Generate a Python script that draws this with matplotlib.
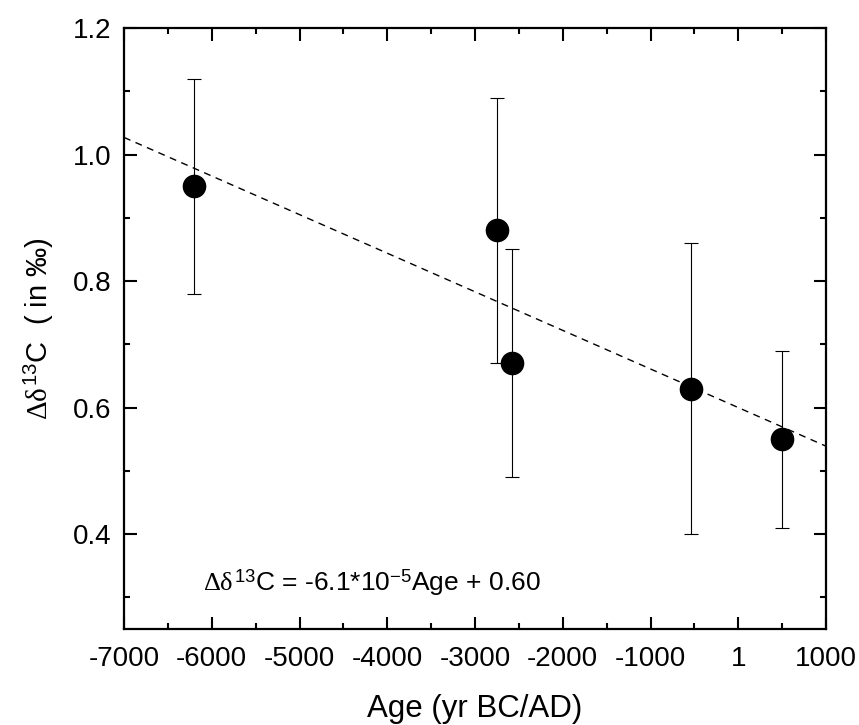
import numpy as np
import matplotlib.pyplot as plt
from matplotlib.ticker import MultipleLocator

plt.rcParams['font.family'] = ['Liberation Sans', 'DejaVu Sans']
plt.rcParams['mathtext.fontset'] = 'custom'
plt.rcParams['mathtext.rm'] = 'Liberation Serif'
plt.rcParams['mathtext.it'] = 'Liberation Serif'
plt.rcParams['mathtext.sf'] = 'Liberation Sans'

# data
age = [-6200, -2750, -2580, -540, 500]
d13c = [0.95, 0.88, 0.67, 0.63, 0.55]
err_hi = [1.12, 1.09, 0.85, 0.86, 0.69]
err_lo = [0.78, 0.67, 0.49, 0.40, 0.41]

SLOPE = -6.1e-5
INTERCEPT = 0.60

xticks = [-7000, -6000, -5000, -4000, -3000, -2000, -1000, 0, 1000]
xticklabels = ['-7000', '-6000', '-5000', '-4000', '-3000', '-2000', '-1000', '1', '1000']

age = np.array(age)
d13c = np.array(d13c)
yerr = [d13c - np.array(err_lo), np.array(err_hi) - d13c]

fig = plt.figure(figsize=(8.59, 7.25), dpi=100)
ax = fig.add_axes([0.1444, 0.1324, 0.8172, 0.829])

ax.errorbar(age, d13c, yerr=yerr, fmt='o', color='black', ms=16,
            ecolor='black', elinewidth=0.8, capsize=5, capthick=0.8, zorder=3)

xfit = np.array([-7000, 1000])
ax.plot(xfit, SLOPE * xfit + INTERCEPT, color='black', ls=(0, (5, 4)), lw=1.0, zorder=4)

ax.set_xlim(-7000, 1000)
ax.set_ylim(0.25, 1.2)
ax.set_xticks(xticks)
ax.set_xticklabels(xticklabels)
ax.xaxis.set_minor_locator(MultipleLocator(500))
ax.yaxis.set_major_locator(MultipleLocator(0.2))
ax.yaxis.set_minor_locator(MultipleLocator(0.1))
ax.yaxis.set_major_formatter(plt.FormatStrFormatter('%.1f'))

ax.tick_params(which='both', direction='in', top=True, right=True, width=1.5,
               labelsize=20)
ax.tick_params(axis='x', pad=12)
ax.tick_params(axis='y', pad=9)
ax.tick_params(which='major', length=9)
ax.tick_params(which='minor', length=4.5)
for s in ax.spines.values():
    s.set_linewidth(1.6)

ax.set_xlabel('Age (yr BC/AD)', fontsize=22.5, labelpad=16)
ax.set_ylabel(r'$\Delta\delta^{\mathsf{13}}$C  ( in ‰)', fontsize=21, labelpad=12)

ax.text(-6100, 0.324, r'$\Delta\delta^{\mathsf{13}}$C = -6.1*10$^{\mathsf{-5}}$Age + 0.60',
        fontsize=19, va='center', ha='left')

fig.savefig('out.png', dpi=100)
